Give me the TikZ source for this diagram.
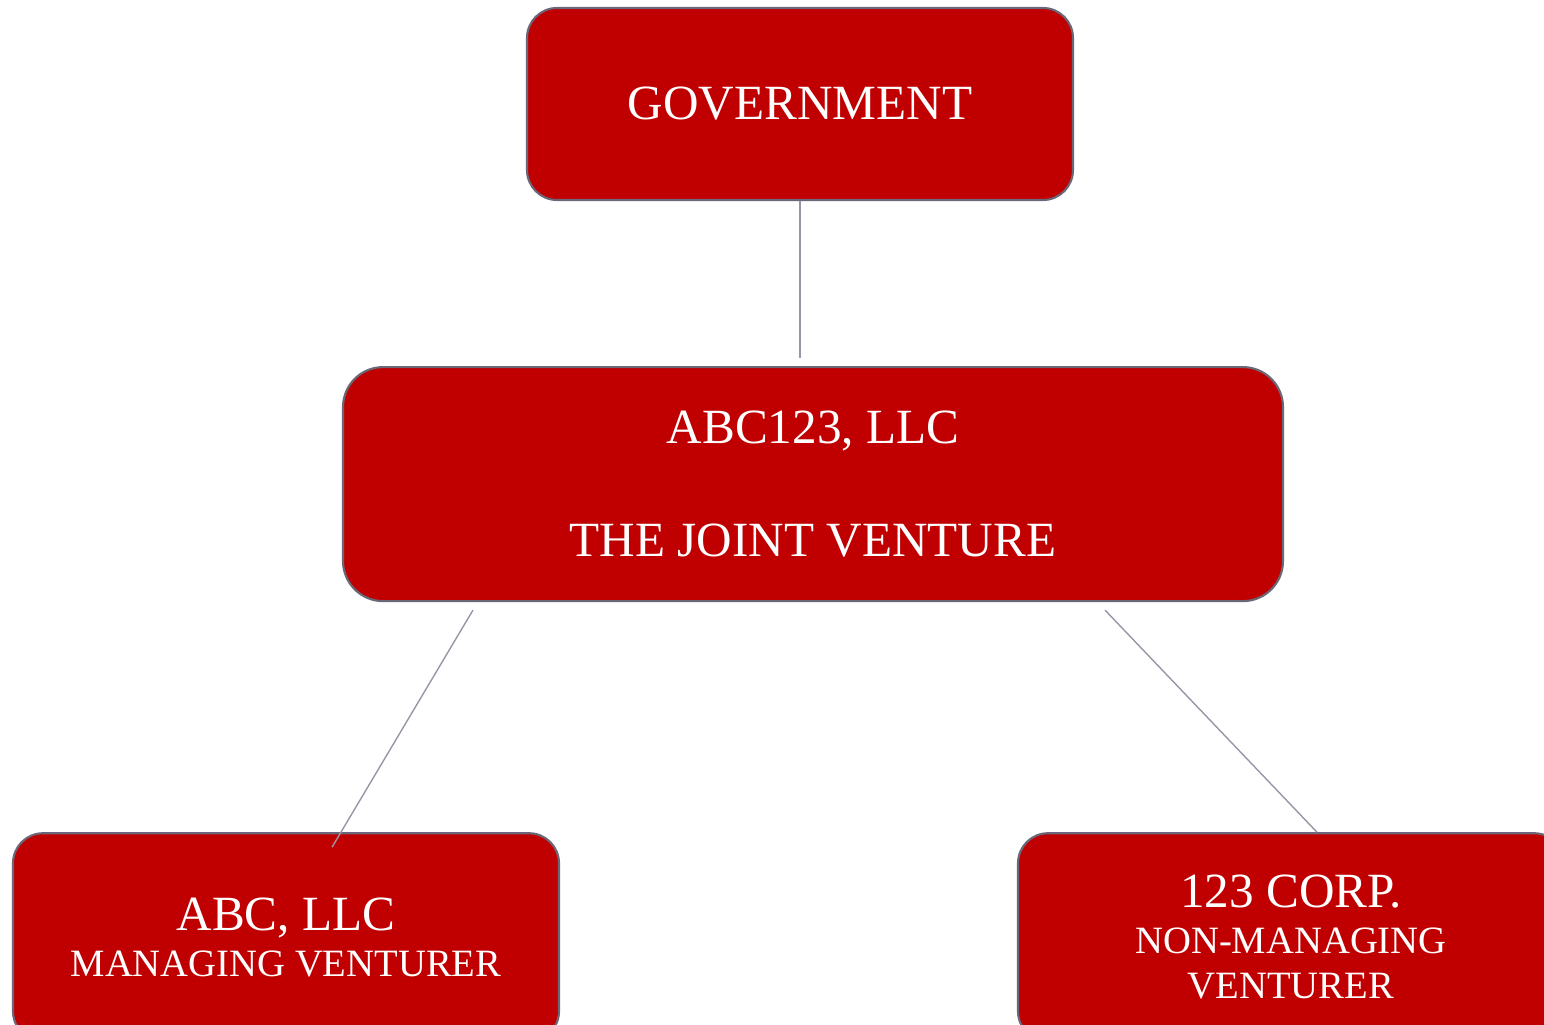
\documentclass[tikz,border=0pt]{standalone}
\usepackage{fontspec}
\setmainfont{Liberation Serif}
\usepackage{xcolor}
\usepackage{tikz}
\usetikzlibrary{positioning}

\definecolor{boxred}{RGB}{192,0,0}
\definecolor{boxline}{RGB}{106,104,120}
\definecolor{linkgray}{RGB}{156,148,166}

\newcommand{\bigtxt}{\fontsize{14}{13}\selectfont}

\begin{document}
\begin{tikzpicture}[
    every node/.style={font=\fontsize{11}{13}\selectfont, text=white},
    box/.style={rectangle, draw=boxline, line width=0.6pt, fill=boxred, rounded corners=0.3cm, align=center, inner sep=0pt, minimum width=5.46cm, minimum height=1.92cm},
    link/.style={draw=linkgray, line width=0.4pt}
]
\useasboundingbox (0,0) rectangle (15.44,10.24);
\clip (0,0) rectangle (15.44,10.24);

% Boxes
\node[box, font=\fontsize{14}{17}\selectfont] (gov) at (8.00,9.20) {GOVERNMENT};
\node[box, font=\fontsize{14}{17}\selectfont, minimum width=9.40cm, minimum height=2.34cm, rounded corners=0.4cm, below=1.65cm of gov, xshift=0.13cm] (jv) {ABC123, LLC\\[15pt]THE JOINT VENTURE};
\node[box, minimum height=2.08cm, below=2.30cm of jv, xshift=-5.27cm] (abc) {{\bigtxt ABC, LLC}\\MANAGING VENTURER};
\node[box, minimum height=2.08cm, below=2.30cm of jv, xshift=4.78cm] (corp) {{\bigtxt 123 CORP.}\\NON-MANAGING\\VENTURER};

% Links
\draw[link, shorten >=0.08cm] (gov.south) -- (gov.south |- jv.north);
\draw[link] ([xshift=1.31cm, yshift=-0.08cm]jv.south west) -- ([xshift=-2.28cm, yshift=-0.15cm]abc.north east);
\draw[link] ([xshift=-1.79cm, yshift=-0.08cm]jv.south east) -- ([xshift=3.00cm]corp.north west);

\end{tikzpicture}
\end{document}
